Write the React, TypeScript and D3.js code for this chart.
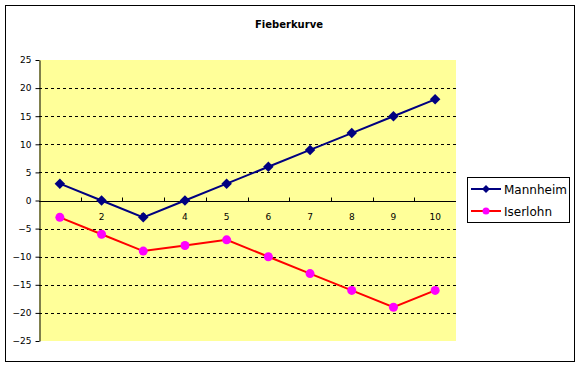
import React, { useEffect, useRef } from 'react';
import * as d3 from 'd3';

const categories = ['1', '2', '3', '4', '5', '6', '7', '8', '9', '10'];
const mannheim = [3, 0, -3, 0, 3, 6, 9, 12, 15, 18];
const iserlohn = [-3, -6, -9, -8, -7, -10, -13, -16, -19, -16];
const yTicks = [-25, -20, -15, -10, -5, 0, 5, 10, 15, 20, 25];

const W = 578;
const H = 366;
const font = 'Tahoma, "DejaVu Sans", sans-serif';

const App = () => {
  const ref = useRef<SVGSVGElement>(null);

  useEffect(() => {
    const svg = d3.select(ref.current);
    svg.selectAll('*').remove();

    const plot = { left: 39, right: 456, top: 60, bottom: 341 };

    svg.append('rect').attr('x', 0).attr('y', 0).attr('width', W).attr('height', H).attr('fill', '#fff');
    svg.append('rect')
      .attr('x', 5.5).attr('y', 5.5).attr('width', 569).attr('height', 356)
      .attr('fill', 'none').attr('stroke', '#000').attr('stroke-width', 1);

    svg.append('text')
      .attr('x', 289).attr('y', 28)
      .attr('text-anchor', 'middle')
      .style('font-family', font).style('font-size', '10px').style('font-weight', 'bold')
      .text('Fieberkurve');

    const x = d3.scaleBand().domain(categories).range([plot.left, plot.right]);
    const y = d3.scaleLinear().domain([-25, 25]).range([plot.bottom, plot.top]);
    const cx = (c: string) => (x(c) as number) + x.bandwidth() / 2;

    svg.append('rect')
      .attr('x', plot.left).attr('y', plot.top)
      .attr('width', plot.right - plot.left).attr('height', plot.bottom - plot.top)
      .attr('fill', '#FFFF99');

    // gridlines
    svg.append('g').selectAll('line')
      .data(yTicks.filter(t => t !== 0 && t !== 25 && t !== -25))
      .join('line')
      .attr('x1', plot.left).attr('x2', plot.right)
      .attr('y1', d => Math.round(y(d)) + 0.5).attr('y2', d => Math.round(y(d)) + 0.5)
      .attr('stroke', '#000').attr('stroke-dasharray', '3,3');

    // y axis
    const yAxis = svg.append('g')
      .attr('transform', `translate(${plot.left + 0.5},0)`)
      .call(d3.axisLeft(y).tickValues(yTicks).tickSize(4).tickSizeOuter(0));
    yAxis.select('.domain').attr('stroke', '#000');
    yAxis.selectAll('text')
      .style('font-family', font).style('font-size', '9px').attr('fill', '#000').attr('dx', '-1');

    // x axis at y=0
    const y0 = Math.round(y(0)) + 0.5;
    svg.append('line')
      .attr('x1', plot.left).attr('x2', plot.right)
      .attr('y1', y0).attr('y2', y0).attr('stroke', '#000');
    svg.append('g').selectAll('line')
      .data(categories.slice(1))
      .join('line')
      .attr('x1', d => Math.round(x(d) as number) + 0.5).attr('x2', d => Math.round(x(d) as number) + 0.5)
      .attr('y1', y0).attr('y2', y0 - 4)
      .attr('stroke', '#000');
    svg.append('g').selectAll('text')
      .data(categories)
      .join('text')
      .attr('x', d => cx(d)).attr('y', y0 + 18)
      .attr('text-anchor', 'middle')
      .style('font-family', font).style('font-size', '9px')
      .text(d => d);

    const line = d3.line<number>().x((_, i) => cx(categories[i])).y(d => y(d));

    const diamond = d3.symbol().type(d3.symbolDiamond2).size(70);

    // Mannheim
    svg.append('path').datum(mannheim).attr('d', line)
      .attr('fill', 'none').attr('stroke', '#000080').attr('stroke-width', 2);
    svg.append('g').selectAll('path')
      .data(mannheim)
      .join('path')
      .attr('d', diamond)
      .attr('transform', (d, i) => `translate(${cx(categories[i])},${y(d)})`)
      .attr('fill', '#000080');

    // Iserlohn
    svg.append('path').datum(iserlohn).attr('d', line)
      .attr('fill', 'none').attr('stroke', '#FF0000').attr('stroke-width', 2);
    svg.append('g').selectAll('circle')
      .data(iserlohn)
      .join('circle')
      .attr('cx', (d, i) => cx(categories[i])).attr('cy', d => y(d)).attr('r', 4.5)
      .attr('fill', '#FF00FF');

    // legend
    const lg = svg.append('g');
    lg.append('rect')
      .attr('x', 467.5).attr('y', 177.5).attr('width', 102).attr('height', 45)
      .attr('fill', '#fff').attr('stroke', '#000');
    const items = [
      { name: 'Mannheim', stroke: '#000080', fill: '#000080', shape: 'diamond' },
      { name: 'Iserlohn', stroke: '#FF0000', fill: '#FF00FF', shape: 'circle' },
    ];
    items.forEach((it, i) => {
      const yy = 189 + i * 22;
      lg.append('line').attr('x1', 471).attr('x2', 501).attr('y1', yy).attr('y2', yy)
        .attr('stroke', it.stroke).attr('stroke-width', 2);
      if (it.shape === 'diamond') {
        lg.append('path').attr('d', d3.symbol().type(d3.symbolDiamond2).size(40)())
          .attr('transform', `translate(486,${yy})`).attr('fill', it.fill);
      } else {
        lg.append('circle').attr('cx', 486).attr('cy', yy).attr('r', 3.5).attr('fill', it.fill);
      }
      lg.append('text').attr('x', 504).attr('y', yy + 4.5)
        .style('font-family', font).style('font-size', '12px')
        .text(it.name);
    });
  }, []);

  return (
    <svg ref={ref} width={W} height={H} style={{ position: 'fixed', left: 0, top: 0 }} />
  );
};

export default App;
